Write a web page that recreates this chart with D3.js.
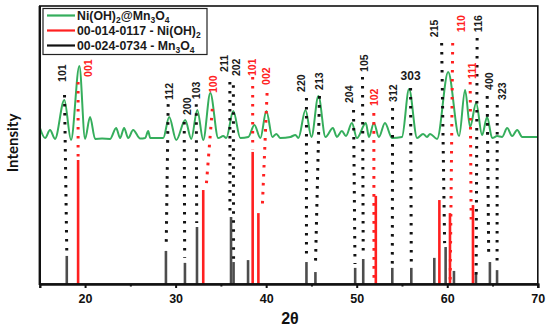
<!DOCTYPE html>
<html><head><meta charset="utf-8">
<script src="https://cdn.jsdelivr.net/npm/d3@7"></script>
<style>body{margin:0;background:#fff;} svg{display:block}</style>
</head><body><svg id="c" width="550" height="328"></svg>
<script>
// ---- measured pattern (2θ, intensity, arbitrary units) ----
const scan2Theta = [15.02,15.58,16.13,16.68,17.71,18.45,19.37,20.0,20.55,21.11,21.88,22.77,23.43,23.87,24.31,24.76,25.31,26.09,26.64,26.97,27.2,28.63,29.29,30.07,31.06,31.73,32.39,33.05,33.83,34.71,35.26,35.59,36.37,37.15,38.03,38.7,39.36,40.02,40.69,41.13,41.57,42.68,43.23,43.56,44.34,45.0,45.77,46.55,47.37,47.81,48.36,48.81,49.47,50.02,51.01,51.35,51.9,52.45,53.12,53.9,55.0,55.78,56.67,57.33,57.77,58.1,58.88,60.1,61.31,61.97,62.52,63.19,63.85,64.4,64.96,65.51,66.06,66.62,67.17,67.72,68.28,69.17,70.0];
const scanIntensity = [56.1,52.5,55.4,52.2,66.2,51.8,78.4,52.2,60.1,52.2,52.3,52.2,56.1,52.5,56.1,52.5,55.4,52.3,52.5,55.0,52.5,52.5,60.1,51.8,59.0,52.2,62.6,51.8,68.7,52.5,53.2,52.5,62.2,52.5,52.9,57.2,52.5,62.2,52.9,54.0,52.5,52.9,53.6,52.5,62.6,52.9,67.6,52.9,56.1,52.9,55.0,53.2,57.9,52.5,57.9,52.9,57.9,52.9,57.9,52.5,52.9,70.1,52.5,54.0,52.9,54.0,52.2,76.3,53.2,69.8,56.5,65.1,53.6,60.1,52.5,53.2,52.9,56.1,53.2,55.4,52.9,52.9,52.9];

// ---- reference cards ----
const mn3o4Pos = [17.98,28.93,31.03,32.36,36.12,36.40,38.0,44.45,45.44,49.83,50.72,53.93,56.03,58.57,59.82,60.74,63.17,64.71,65.50];
const mn3o4Int = [10.1,11.9,7.6,20.5,24.1,7.9,8.6,7.9,4.3,5.8,9.0,5.8,5.8,9.4,13.3,4.7,3.6,7.9,5.0];
const niohPos = [19.23,33.05,38.51,39.14,52.11,59.13,60.30,62.84];
const niohInt = [44.6,33.8,47.5,25.5,31.7,30.2,25.5,28.4];

// ---- hkl annotations ----
const hklText   = ["101","001","112","200","103","100","211","202","101","002","220","213","204","105","102","312","303","215","110","111","116","400","323"];
const hklPhase  = ["M","N","M","M","M","N","M","M","N","N","M","M","M","M","N","M","M","M","N","N","M","M","M"];
const hklLab2T  = [17.49,20.37,29.33,31.25,32.28,34.19,35.38,36.70,38.44,40.02,43.86,45.81,49.20,50.86,51.89,54.04,55.95,58.61,61.56,62.73,63.40,64.61,66.09];
const hklLabLvl = [72.7,74.5,66.2,60.8,66.5,68.7,76.3,74.8,74.8,71.6,69.1,69.8,65.1,76.3,64.0,65.5,73.4,88.8,90.6,73.7,90.6,69.8,66.2];
const lineTop2T = [17.73,19.23,29.18,30.95,32.28,34.05,35.99,36.38,38.51,40.1,44.45,45.89,49.65,50.64,51.89,53.96,55.95,59.38,60.60,62.53,63.30,64.41,65.52];
const lineTopLvl= [68.0,72.7,64.7,58.3,64.7,63.0,72.7,71.5,74.5,68.7,66.9,67.6,62.6,74.5,61.5,63.3,70.5,86.7,86.7,72.7,88.5,67.6,64.4];
const lineBot2T = [17.98,19.23,28.96,31.0,32.33,33.39,36.0,36.40,38.51,39.58,44.45,45.44,49.81,50.72,51.91,53.93,56.03,59.71,60.32,62.64,63.19,64.58,65.50];
const lineBotLvl= [11.5,45.7,13.3,9.4,21.9,35.6,24.5,8.6,48.5,28.1,9.4,6.5,7.2,10.4,0.5,6.8,6.8,14.7,0.5,23.0,2.9,9.4,6.5];

const xTicks = [20,30,40,50,60,70];
const xMinor = [25,35,45,55,65];

const svg = d3.select("#c");
const x = d3.scaleLinear().domain([15,70]).range([39.8,537.8]);
const y = d3.scaleLinear().domain([0,100]).range([284,6]);
const RED = "#ff2020", GRAY = "#4d4d4d", GREEN = "#35ae5c";

// sticks
svg.append("g").selectAll("line").data(mn3o4Pos).join("line")
  .attr("x1",(d)=>x(d)).attr("x2",(d)=>x(d))
  .attr("y1",y(0)).attr("y2",(d,i)=>y(mn3o4Int[i]))
  .attr("stroke",GRAY).attr("stroke-width",2.6);
svg.append("g").selectAll("line").data(niohPos).join("line")
  .attr("x1",(d)=>x(d)).attr("x2",(d)=>x(d))
  .attr("y1",y(0)).attr("y2",(d,i)=>y(niohInt[i]))
  .attr("stroke",RED).attr("stroke-width",2.6);

// measured curve
const pts = scan2Theta.map((t,i)=>[t,scanIntensity[i]]);
svg.append("path").datum(pts)
  .attr("d", d3.line().x(d=>x(d[0])).y(d=>y(d[1])).curve(d3.curveMonotoneX))
  .attr("fill","none").attr("stroke",GREEN).attr("stroke-width",2);

// dotted guide lines
svg.append("g").selectAll("line").data(hklText).join("line")
  .attr("x1",(d,i)=>x(lineTop2T[i])).attr("y1",(d,i)=>y(lineTopLvl[i]))
  .attr("x2",(d,i)=>x(lineBot2T[i])).attr("y2",(d,i)=>y(lineBotLvl[i]))
  .attr("stroke",(d,i)=>hklPhase[i]==="N"?RED:"#111")
  .attr("stroke-width",3).attr("stroke-dasharray","2.6,6.4");

// hkl labels
const lab = svg.append("g").attr("font-family","'Liberation Sans', Arial, sans-serif")
  .attr("font-weight","bold");
hklText.forEach((t,i)=>{
  const col = hklPhase[i]==="N"?RED:"#1a1a1a";
  if (t==="303" && hklPhase[i]==="M" && i===16) {
    lab.append("text").attr("x",x(hklLab2T[i])).attr("y",y(hklLabLvl[i]))
      .attr("text-anchor","middle").attr("font-size",12).attr("fill",col).text(t);
  } else {
    lab.append("text")
      .attr("transform",`translate(${x(hklLab2T[i])},${y(hklLabLvl[i])}) rotate(-90)`)
      .attr("dy","0.36em").attr("font-size",10.5).attr("fill",col).text(t);
  }
});

// frame
svg.append("rect").attr("x",x(15)).attr("y",y(100)).attr("width",x(70)-x(15)).attr("height",y(0)-y(100))
  .attr("fill","none").attr("stroke","#111").attr("stroke-width",1.6);
svg.append("line").attr("x1",x(15)).attr("x2",x(15)).attr("y1",y(100)).attr("y2",y(0)+1)
  .attr("stroke","#111").attr("stroke-width",2.4);

// x axis
const ax = svg.append("g").attr("transform",`translate(0,${y(0)})`)
  .call(d3.axisBottom(x).tickValues(xTicks).tickSize(4).tickFormat(d3.format("d")));
ax.select(".domain").attr("stroke","#111").attr("stroke-width",2.4);
ax.selectAll(".tick line").attr("stroke","#111").attr("stroke-width",2);
ax.selectAll(".tick text").attr("y",19).attr("dy",0)
  .attr("font-family","'Liberation Sans', Arial, sans-serif").attr("font-weight","bold")
  .attr("font-size",12.5).attr("fill","#111");
svg.append("g").attr("transform",`translate(0,${y(0)})`)
  .call(d3.axisBottom(x).tickValues(xMinor).tickSize(2.5).tickFormat(""))
  .call(g=>g.select(".domain").remove())
  .selectAll(".tick line").attr("stroke","#111").attr("stroke-width",2);

// axis titles
svg.append("text").attr("x",290).attr("y",324).attr("text-anchor","middle")
  .attr("font-family","'Liberation Sans', Arial, sans-serif").attr("font-weight","bold")
  .attr("font-size",16).attr("fill","#111").text("2θ");
svg.append("text").attr("transform","translate(17.5,143) rotate(-90)").attr("text-anchor","middle")
  .attr("font-family","Lato, 'Open Sans', sans-serif").attr("font-weight","bold")
  .attr("font-size",15).attr("fill","#111").text("Intensity");

// legend
const leg = svg.append("g");
leg.append("rect").attr("x",43).attr("y",8.5).attr("width",164).attr("height",46)
  .attr("fill","#fff").attr("stroke","#222").attr("stroke-width",1.2);
const legItems = [
  {c:GREEN, parts:[["Ni(OH)",0],["2",1],["@Mn",0],["3",1],["O",0],["4",1]]},
  {c:RED,   parts:[["00-014-0117 - Ni(OH)",0],["2",1]]},
  {c:"#111",parts:[["00-024-0734 - Mn",0],["3",1],["O",0],["4",1]]}
];
legItems.forEach((it,i)=>{
  const cy = 15.5 + i*15;
  leg.append("line").attr("x1",47).attr("x2",75).attr("y1",cy).attr("y2",cy)
    .attr("stroke",it.c).attr("stroke-width",2.2);
  const t = leg.append("text").attr("x",77).attr("y",cy+4.3)
    .attr("font-family","'Liberation Sans', Arial, sans-serif").attr("font-weight","bold")
    .attr("font-size",12.3).attr("fill","#1a1a1a");
  let sub = false;
  it.parts.forEach(([s,isSub])=>{
    const sp = t.append("tspan").text(s);
    if (isSub && !sub) { sp.attr("dy",3).attr("font-size",8.5); sub = true; }
    else if (!isSub && sub) { sp.attr("dy",-3); sub = false; }
    else if (isSub) sp.attr("font-size",8.5);
  });
});
</script></body></html>
